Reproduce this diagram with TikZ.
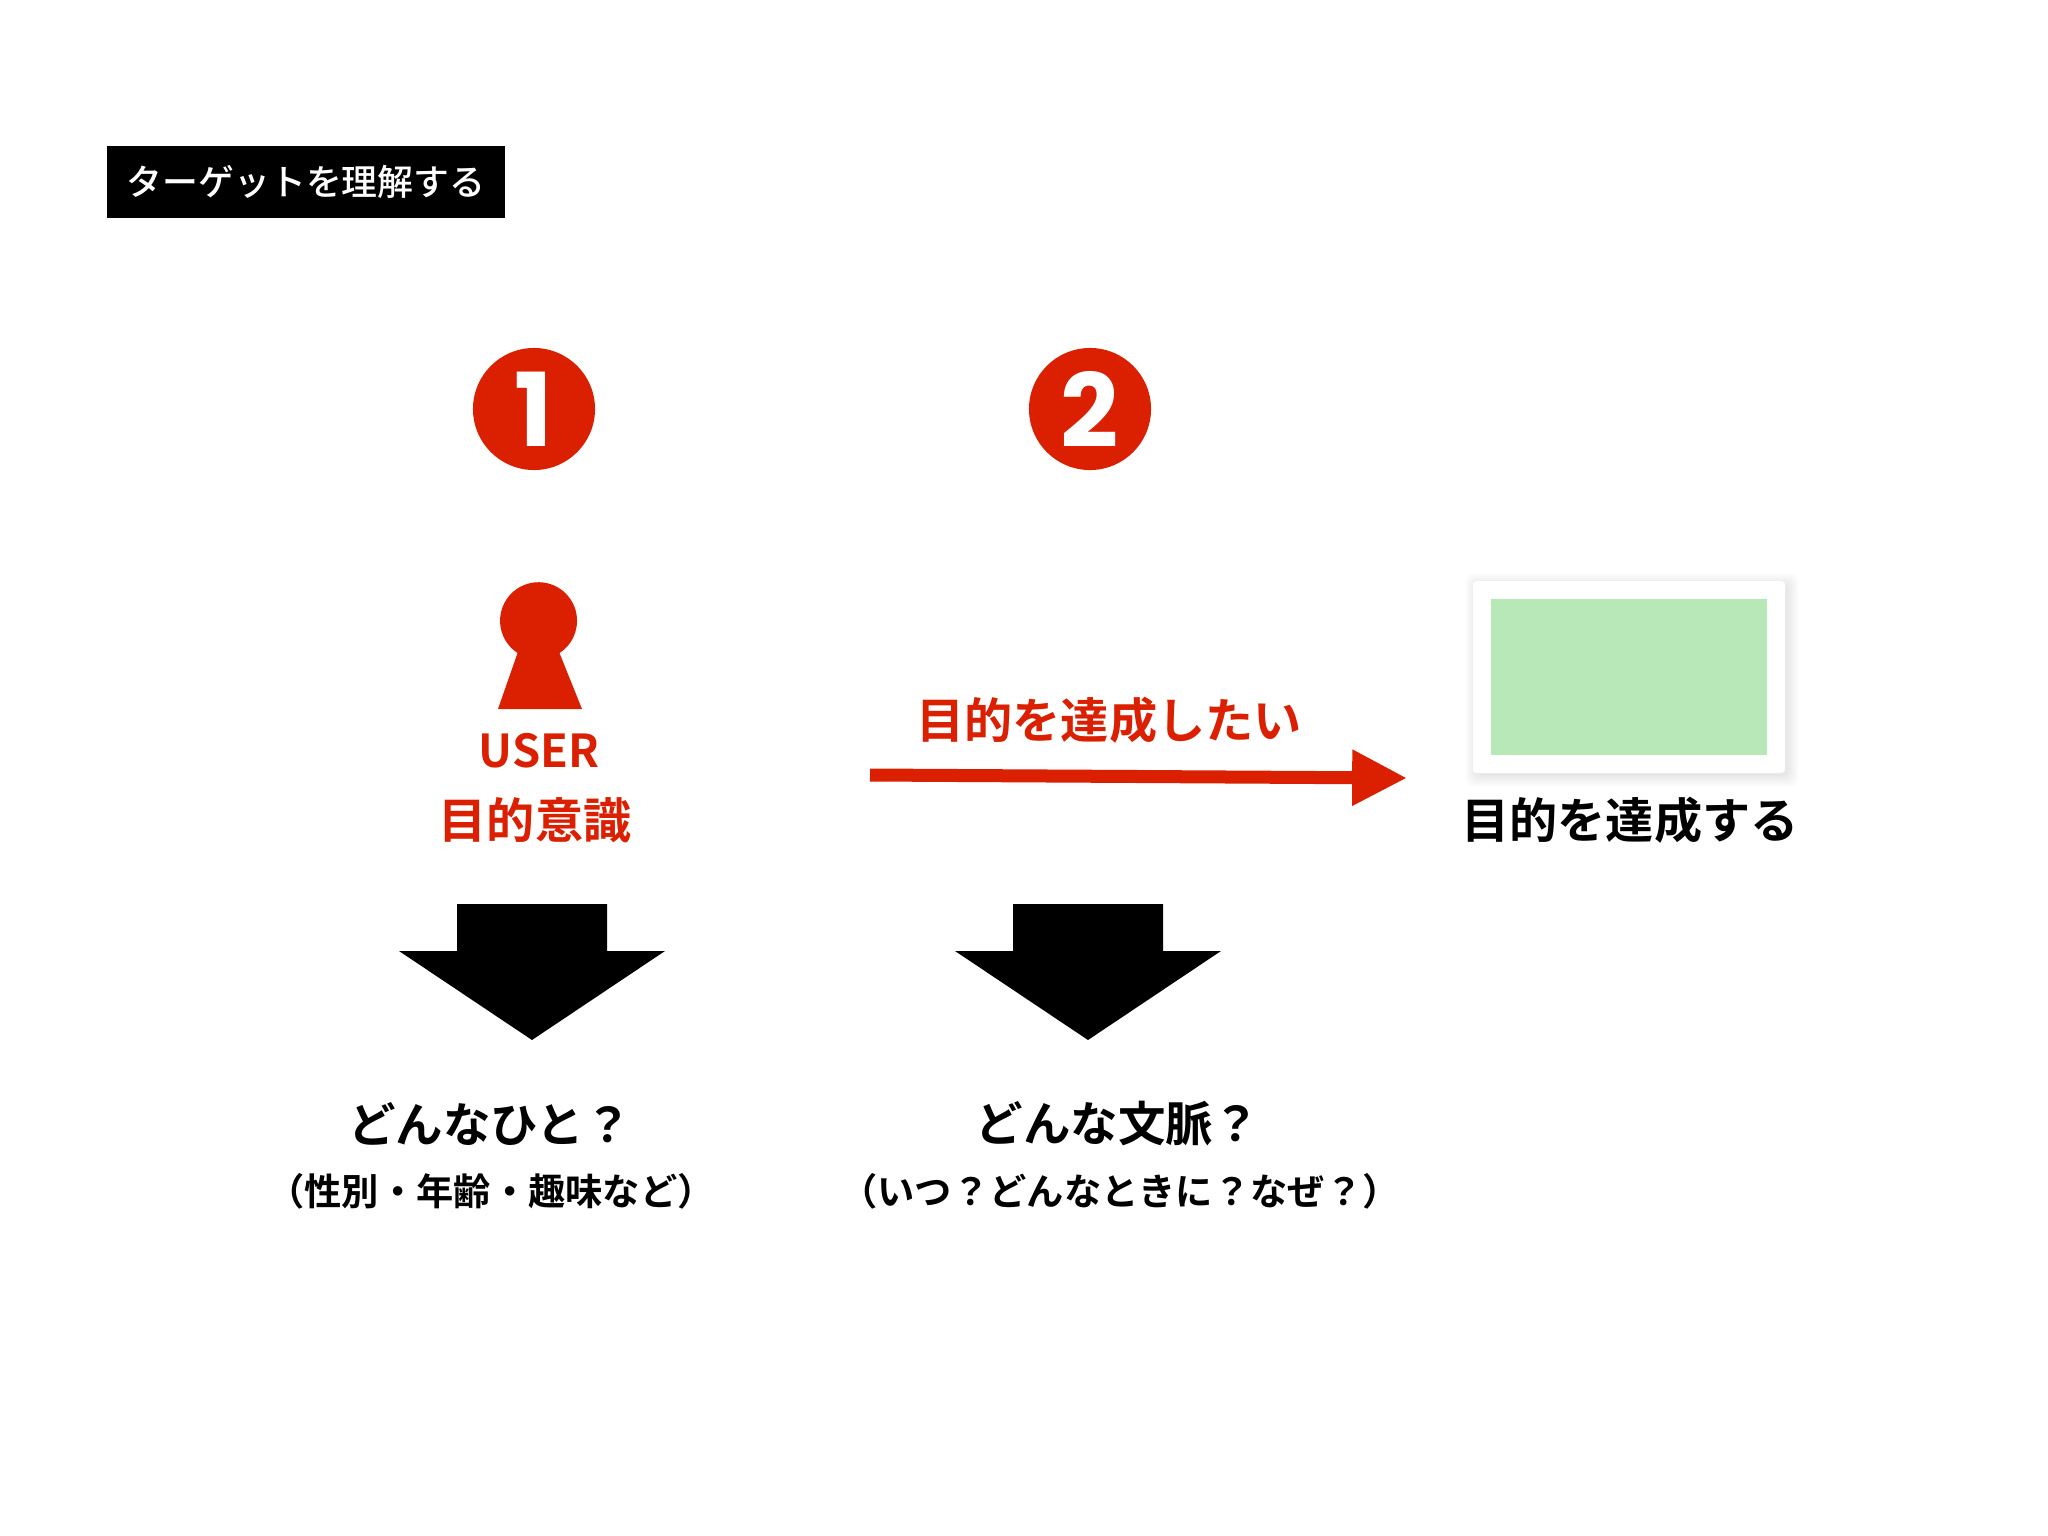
\documentclass[tikz,border=0pt]{standalone}
\usepackage{fontspec}
\setmainfont{Noto Sans CJK JP}[BoldFont={Noto Sans CJK JP Bold}]
\newfontfamily\mediumfont{Noto Sans CJK JP Medium}
\newfontfamily\numfont{Poppins}
\usepackage{color}
\usetikzlibrary{arrows.meta}
\definecolor{mainred}{HTML}{DA2000}
\definecolor{cardgreen}{HTML}{B8E8B8}
\tikzset{
    titlebox/.style={fill=black,text=white,minimum width=3.97cm,minimum height=.72cm,inner sep=0pt,font=\mediumfont\fontsize{10.2pt}{12pt}\selectfont},
    bignum/.style={circle,fill=mainred,text=white,minimum size=1.22cm,inner sep=0pt,font=\numfont\fontsize{29pt}{34pt}\bfseries\selectfont},
    redtext/.style={text=mainred,inner sep=0pt,font=\fontsize{13.7pt}{16pt}\bfseries\selectfont},
    blacktext/.style={text=black,inner sep=0pt,font=\fontsize{13.7pt}{16pt}\bfseries\selectfont},
    asktext/.style={text=black,inner sep=0pt,font=\fontsize{13.5pt}{16pt}\bfseries\selectfont},
    smalltext/.style={text=black,inner sep=0pt,font=\fontsize{10.6pt}{12pt}\bfseries\selectfont}
}
\begin{document}
\begin{tikzpicture}[x=0.01cm,y=-0.01cm]
    \useasboundingbox[fill=white] (0,0) rectangle (2048,1536);

    \node[titlebox] at (306,182)(title) {ターゲットを理解する};
    \node[bignum] at (534,409)(one) {1};
    \node[bignum] at (1090,409)(two) {2};

    % keyhole figure
    \fill[mainred] (559.5,653) arc (57:-237:38.5) -- (498,709) -- (582,709) -- cycle;
    \node[redtext,font=\fontsize{12.9pt}{16pt}\bfseries\selectfont] at (539,751)(user) {USER};
    \node[redtext] at (535,820)(purpose) {目的意識};

    \node[redtext] at (1109,720)(want) {目的を達成したい};
    \coordinate (arrowstart) at (870,775);
    \coordinate (arrowend) at (1407,778);
    \draw[mainred,line width=13*0.2845pt,-{Triangle[length=15.6pt,width=15pt]}] (arrowstart) -- (arrowend);

    % card with soft shadow
    \foreach \s in {10,8,...,0}
    {
        \fill[black,opacity=.016,rounded corners=2pt] (1473-\s+3,581-\s+3) rectangle (1785+\s+3,773+\s+3);
    }
    \path[fill=white,rounded corners=1pt] (1473,581) rectangle (1785,773);
    \path[fill=cardgreen] (1491,599) rectangle (1767,755);
    \node[blacktext] at (1630,820)(goal) {目的を達成する};

    \foreach \x in {532,1088}
    {
        \fill[black] (\x-75,904) -- (\x+75,904) -- (\x+75,951) -- (\x+133,951)
            -- (\x,1040) -- (\x-133,951) -- (\x-75,951) -- cycle;
    }

    \node[asktext] at (490,1124)(who) {どんなひと？};
    \node[asktext] at (1118,1124)(context) {どんな文脈？};
    \node[smalltext] at (491,1191)(whonote) {（性別・年齢・趣味など）};
    \node[smalltext] at (1120,1191)(contextnote) {（いつ？どんなときに？なぜ？）};
\end{tikzpicture}
\end{document}
